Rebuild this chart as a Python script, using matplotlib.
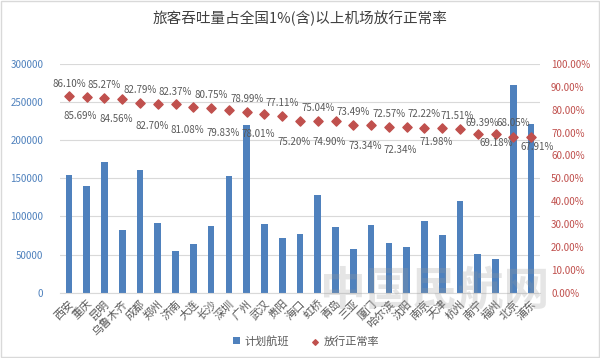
import numpy as np
import matplotlib
matplotlib.use("Agg")
import matplotlib.pyplot as plt
from matplotlib.patches import Rectangle

plt.rcParams['font.family'] = ['Noto Sans CJK SC', 'DejaVu Sans']

airports = ["西安", "重庆", "昆明", "乌鲁木齐", "成都", "郑州", "济南", "大连", "长沙",
            "深圳", "广州", "武汉", "贵阳", "海口", "虹桥", "青岛", "三亚", "厦门",
            "哈尔滨", "沈阳", "南京", "天津", "杭州", "南宁", "福州", "北京", "浦东"]
flights = np.array([154500, 139600, 172100, 82100, 161100, 91700, 54400, 64500, 86900,
                    153600, 219500, 89500, 72400, 77300, 128200, 85600, 57100, 88200,
                    65000, 60100, 94000, 76000, 120300, 50900, 44800, 273000, 220800])
on_time = np.array([86.10, 85.69, 85.27, 84.56, 82.79, 82.70, 82.37, 81.08, 80.75,
                    79.83, 78.99, 78.01, 77.11, 75.20, 75.04, 74.90, 73.49, 73.34,
                    72.57, 72.34, 72.22, 71.98, 71.51, 69.39, 69.18, 68.05, 67.91])

# label placement (pixels from marker): dx, dy
lab_dx = [0, -6] * 11 + [-3, 4, 1, 0, 6]
lab_dy = [12, -19, 13, -20, 13, -22, 12, -23, 13, -23, 13, -20, 13, -21, 13, -21,
          13, -21, 13, -23, 14, -14, 13, 11, -9, 14, -10]

blue = '#4F81BD'
red = '#C0504D'
gray = '#595959'

fig = plt.figure(figsize=(6, 3.58), dpi=100)
ax = fig.add_axes([60 / 600, 1 - 292.7 / 358, 480 / 600, 228.7 / 358])
x = np.arange(len(airports))

ax.bar(x, flights, 0.38, color=blue, zorder=2, label='计划航班')
ax.set_ylim(0, 300000)
ax.set_yticks(np.arange(0, 300001, 50000))
ax.set_xlim(-0.5, len(airports) - 0.5)
ax.grid(axis='y', color='#D9D9D9', linewidth=0.8, zorder=0)
ax.tick_params(axis='y', length=0, labelsize=7, labelcolor=blue, pad=12)
ax.set_xticks(x)
ax.set_xticklabels(airports, rotation=45, ha='right', rotation_mode='anchor',
                   fontsize=8, color=gray)
ax.tick_params(axis='x', length=0, pad=4)
for s in ax.spines.values():
    s.set_visible(False)
ax.spines['bottom'].set_visible(True)
ax.spines['bottom'].set_color('#D9D9D9')

ax2 = ax.twinx()
ax2.scatter(x, on_time, marker='D', s=22, color=red, zorder=3, label='放行正常率')
ax2.set_ylim(0, 100)
ax2.set_yticks(np.arange(0, 101, 10))
ax2.set_yticklabels(['%.2f%%' % v for v in np.arange(0, 101, 10)])
ax2.tick_params(axis='y', length=0, labelsize=7, labelcolor=red, pad=8)
for s in ax2.spines.values():
    s.set_visible(False)

for i, v in enumerate(on_time):
    ax2.annotate('%.2f%%' % v, (x[i], v), xytext=(lab_dx[i], lab_dy[i]),
                 textcoords='offset pixels', ha='center', va='center',
                 fontsize=7, color=gray, zorder=4)

fig.text(0.5, 1 - 18 / 358, '旅客吞吐量占全国1%(含)以上机场放行正常率',
         ha='center', va='center', fontsize=10.5, color='#404040')

# watermark
fig.text(435 / 600, 1 - 292 / 358, '中国民航网', ha='center', va='center',
         fontsize=33, color='#9A9A9A', alpha=0.25, fontweight='bold')

h1, l1 = ax.get_legend_handles_labels()
h2, l2 = ax2.get_legend_handles_labels()
fig.legend(h1 + h2, l1 + l2, loc='center', bbox_to_anchor=(0.51, 1 - 341 / 358),
           ncol=2, frameon=False, fontsize=8, handlelength=0.7, handleheight=0.7,
           columnspacing=2.0, handletextpad=0.4, labelcolor=gray, markerscale=0.6)

fig.patches.append(Rectangle((0.002, 0.003), 0.996, 0.994, transform=fig.transFigure,
                             fill=False, edgecolor='#D9D9D9', linewidth=1))

fig.savefig('out.png', dpi=100)
